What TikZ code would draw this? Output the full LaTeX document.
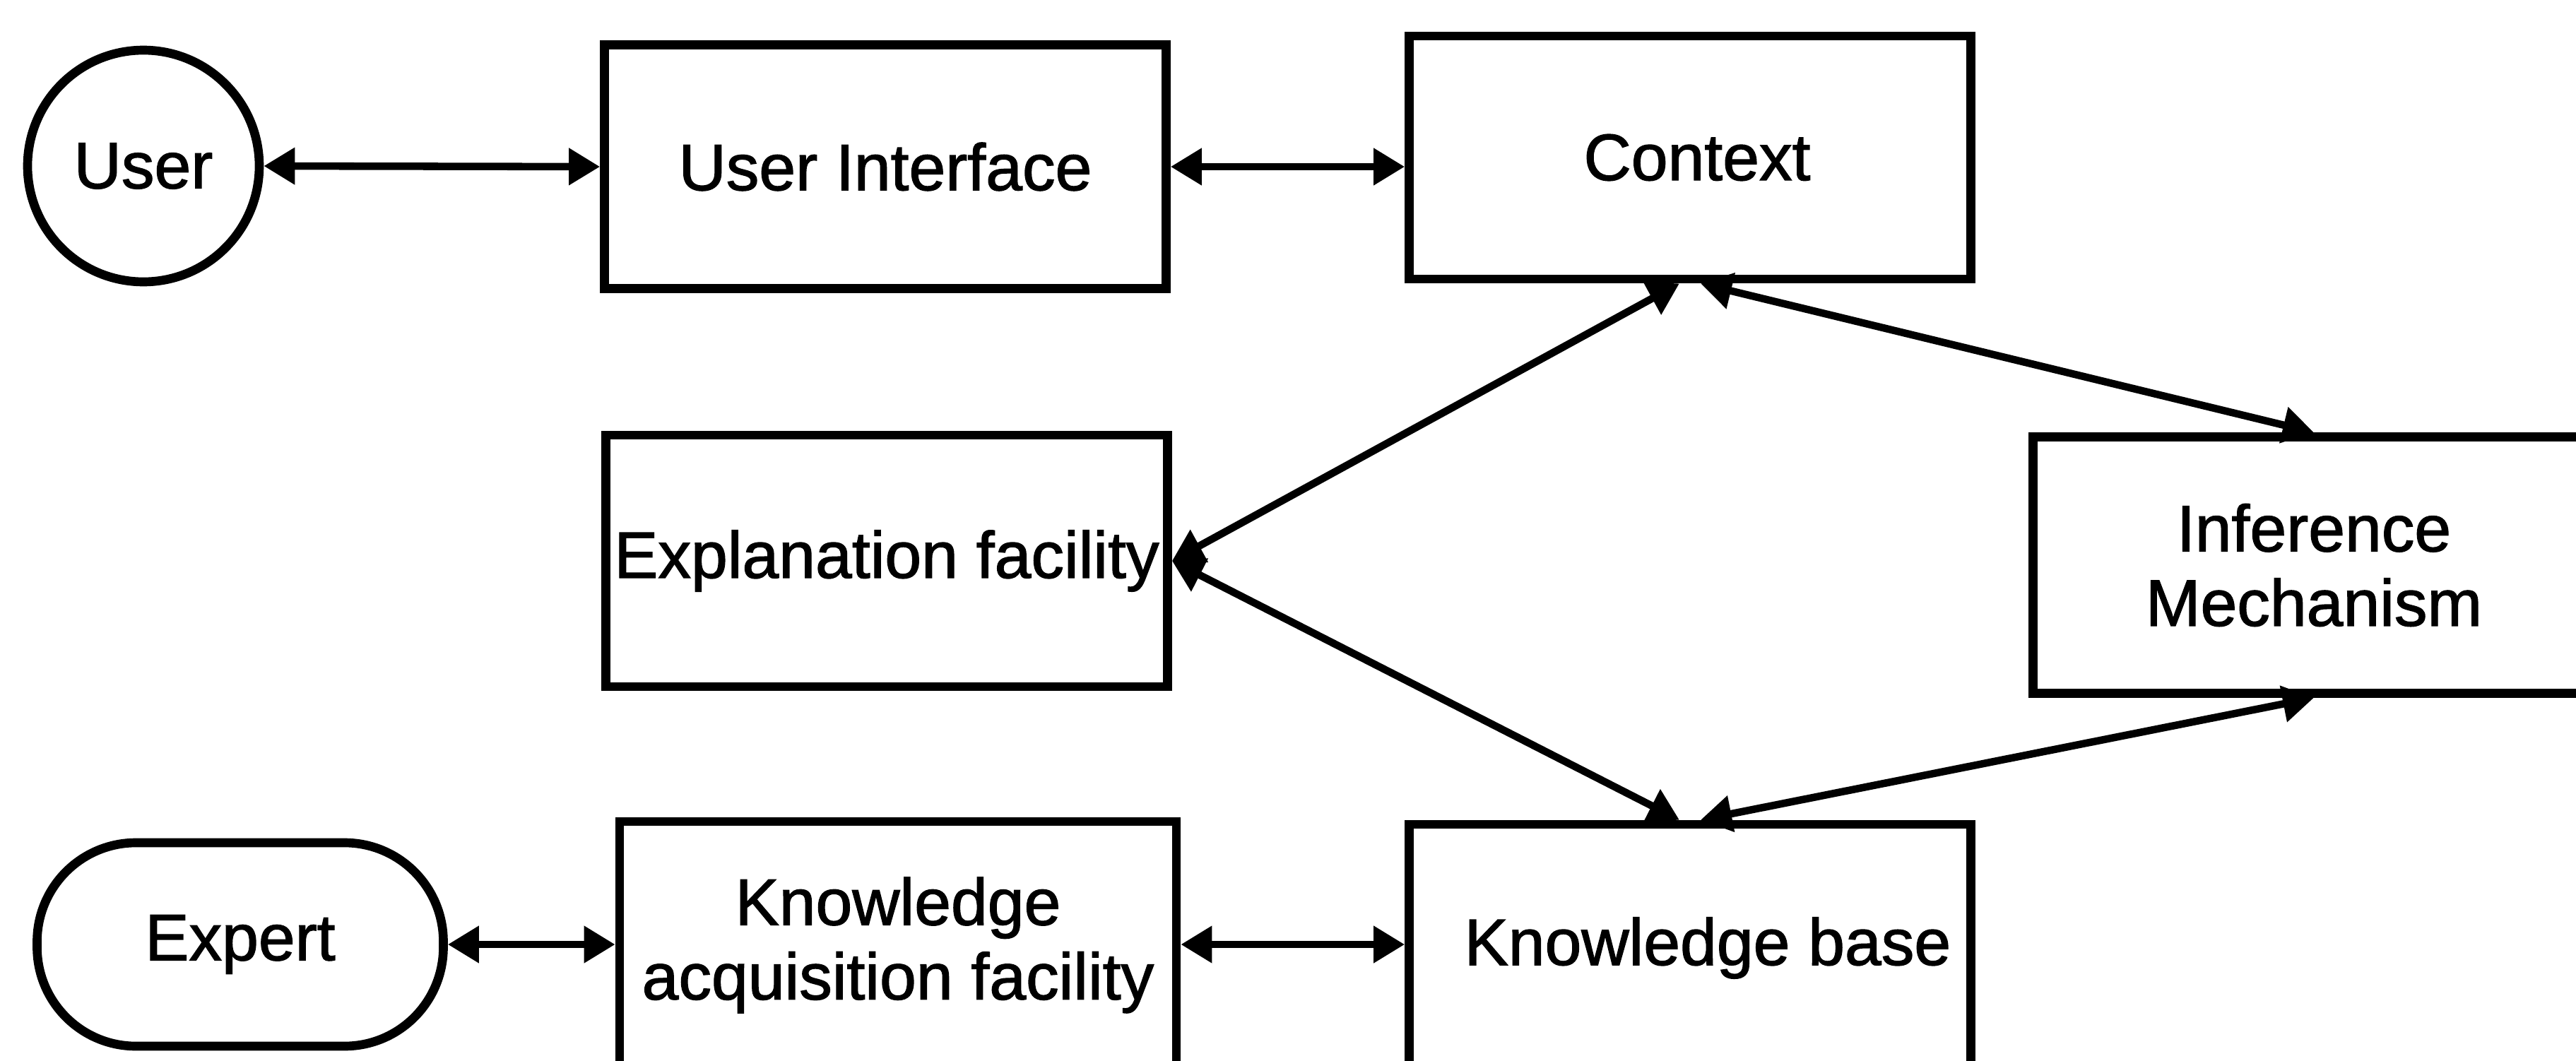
\documentclass[tikz,border=0pt]{standalone}
\usepackage{fontspec}
\setmainfont{Liberation Sans}
\newfontfamily\labelfont{Liberation Sans}[FakeBold=1.4]
\usetikzlibrary{arrows.meta,calc}
\begin{document}
\begin{tikzpicture}[x=1cm,y=1cm,
  txt/.style={font=\labelfont\fontsize{26.5}{30}\selectfont, align=center, inner sep=0pt},
  box/.style={txt, draw, line width=3.6pt, minimum width=7.95cm, minimum height=3.45cm},
  tip/.tip={Triangle[length=4.4mm,width=5mm]},
  link/.style={line width=3pt, tip-tip}
]
\useasboundingbox (0,0) rectangle (36.46,-15.01);
\clip (0,0) rectangle (36.46,-15.01);

% actors
\node[txt, circle, draw, line width=3.6pt, minimum size=3.28cm] (user) at (2.03,-2.35) {User};
\node[txt, draw, line width=3.6pt, rounded corners=1.4cm, minimum width=5.75cm, minimum height=2.88cm] (expert) at (3.40,-13.37) {Expert};

% components
\node[box] (ui) at (12.53,-2.36) {User Interface};
\node[box, minimum height=3.44cm] (ctx) at (23.92,-2.23) {\hspace*{0.2cm}Context};
\node[box, minimum height=3.56cm] (expl) at (12.55,-7.94) {Explanation facility};
\node[box, minimum height=3.63cm] (inf) at (32.75,-8.00) {Inference\\Mechanism};
\node[box, minimum width=7.88cm, minimum height=3.5cm] (kaf) at (12.71,-13.38) {Knowledge\\acquisition facility};
\node[box, minimum height=3.5cm] (kb) at (23.92,-13.42) {\hspace*{0.5cm}Knowledge base};

% connections
\draw[link] (user.east) -- (ui.west);
\draw[link] (ui.east) -- (ui.east -| ctx.west);
\draw[link] (expl.east) -- ([xshift=-1.5mm]ctx.south);
\draw[link] ([xshift=1.5mm]ctx.south) -- (inf.north);
\draw[link] (expl.east) -- ([xshift=-1.5mm]kb.north);
\draw[link] (inf.south) -- ([xshift=1.5mm]kb.north);
\draw[link] (expert.east) -- (expert.east -| kaf.west);
\draw[link] (expert.east -| kaf.east) -- (expert.east -| kb.west);
\end{tikzpicture}
\end{document}
